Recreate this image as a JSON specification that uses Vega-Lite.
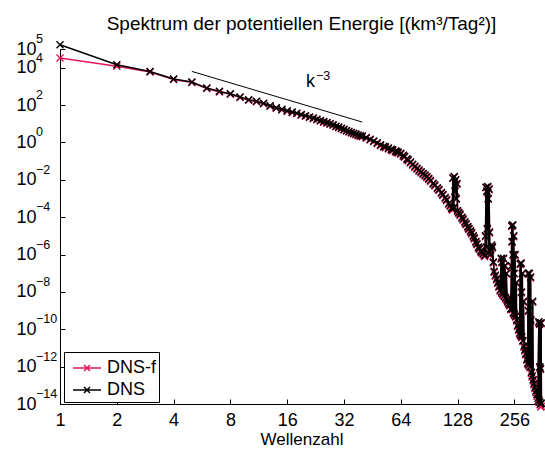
{
  "$schema": "https://vega.github.io/schema/vega-lite/v6.json",
  "width": 483,
  "height": 355,
  "autosize": {"type": "none"},
  "padding": {"left": 60, "top": 49, "right": 2, "bottom": 47},
  "background": "white",
  "title": {"text": "Spektrum der potentiellen Energie [(km³/Tag²)]", "fontSize": 19, "fontWeight": "normal", "color": "black", "font": "Liberation Sans", "baseline": "alphabetic", "offset": -16},
  "config": {
    "view": {"stroke": null},
    "font": "Liberation Sans",
    "axis": {"domainColor": "black", "tickColor": "black", "labelColor": "black", "labelFontSize": 18, "titleFontSize": 17, "titleFontWeight": "normal", "titleColor": "black", "grid": false, "tickSize": -5, "domainWidth": 1, "tickWidth": 1, "labelFont": "Liberation Sans", "titleFont": "Liberation Sans"},
    "legend": {"labelFont": "Liberation Sans"}
  },
  "datasets": {
    "spec": [
      {"k":1,"DNS":1.7e5,"DNSf":3.3e4},{"k":2,"DNS":1.45e4,"DNSf":1.2e4},{"k":3,"DNS":6.3e3,"DNSf":5.8e3},{"k":4,"DNS":2.5e3,"DNSf":2.3e3},{"k":5,"DNS":1.7e3,"DNSf":1.6e3},
      {"k":6,"DNS":810,"DNSf":760},{"k":7,"DNS":540,"DNSf":505},{"k":8,"DNS":400,"DNSf":375},{"k":9,"DNS":270,"DNSf":252},{"k":10,"DNS":195,"DNSf":182},
      {"k":11,"DNS":160,"DNSf":150},{"k":12,"DNS":125,"DNSf":117},{"k":13,"DNS":91,"DNSf":85},{"k":14,"DNS":72,"DNSf":67},{"k":15,"DNS":59,"DNSf":55},
      {"k":16,"DNS":49,"DNSf":45.5},{"k":17,"DNS":42,"DNSf":39},{"k":18,"DNS":37,"DNSf":34.4},{"k":19,"DNS":31,"DNSf":28.8},{"k":20,"DNS":27,"DNSf":25},
      {"k":21,"DNS":23,"DNSf":21.4},{"k":22,"DNS":20,"DNSf":18.6},{"k":23,"DNS":17.5,"DNSf":16.3},{"k":24,"DNS":15,"DNSf":14},{"k":25,"DNS":13,"DNSf":12.1},
      {"k":26,"DNS":11.5,"DNSf":10.7},{"k":27,"DNS":10,"DNSf":9.3},{"k":28,"DNS":8.8,"DNSf":8.2},{"k":29,"DNS":7.4,"DNSf":6.9},{"k":30,"DNS":6.6,"DNSf":6.1},
      {"k":31,"DNS":5.8,"DNSf":5.4},{"k":32,"DNS":5.0,"DNSf":4.6},{"k":33,"DNS":4.4,"DNSf":4.1},{"k":34,"DNS":3.9,"DNSf":3.6},{"k":35,"DNS":3.4,"DNSf":3.15},
      {"k":36,"DNS":3.1,"DNSf":2.85},{"k":37,"DNS":2.8,"DNSf":2.58},{"k":38,"DNS":2.5,"DNSf":2.3},{"k":39,"DNS":2.3,"DNSf":2.12},{"k":40,"DNS":2.2,"DNSf":2.0},
      {"k":42,"DNS":1.82,"DNSf":1.65},{"k":44,"DNS":1.48,"DNSf":1.34},{"k":46,"DNS":1.2,"DNSf":1.08},{"k":48,"DNS":0.955,"DNSf":0.86},{"k":50,"DNS":0.74,"DNSf":0.665},
      {"k":52,"DNS":0.63,"DNSf":0.565},{"k":53,"DNS":0.59,"DNSf":0.52},{"k":55,"DNS":0.5,"DNSf":0.45},{"k":57,"DNS":0.427,"DNSf":0.376},{"k":58,"DNS":0.4,"DNSf":0.36},
      {"k":60,"DNS":0.347,"DNSf":0.305},{"k":61,"DNS":0.324,"DNSf":0.29},{"k":62,"DNS":0.302,"DNSf":0.266},{"k":64,"DNS":0.263,"DNSf":0.236},{"k":66,"DNS":0.204,"DNSf":0.18},
      {"k":67,"DNS":0.178,"DNSf":0.16},{"k":69,"DNS":0.135,"DNSf":0.119},{"k":70,"DNS":0.117,"DNSf":0.105},{"k":72,"DNS":0.089,"DNSf":0.078},{"k":74,"DNS":0.0676,"DNSf":0.06},
      {"k":76,"DNS":0.0525,"DNSf":0.046},{"k":78,"DNS":0.0417,"DNSf":0.037},{"k":80,"DNS":0.0331,"DNSf":0.029},{"k":82,"DNS":0.0269,"DNSf":0.024},{"k":84,"DNS":0.0219,"DNSf":0.0193},
      {"k":86,"DNS":0.0182,"DNSf":0.016},{"k":88,"DNS":0.0148,"DNSf":0.013},{"k":90,"DNS":0.0117,"DNSf":0.0104},{"k":92,"DNS":9.3e-3,"DNSf":8.2e-3},{"k":95,"DNS":6.6e-3,"DNSf":5.8e-3},
      {"k":97,"DNS":5.25e-3,"DNSf":4.6e-3},{"k":100,"DNS":3.8e-3,"DNSf":3.35e-3},{"k":102,"DNS":3.0e-3,"DNSf":2.64e-3},{"k":105,"DNS":2.09e-3,"DNSf":1.84e-3},{"k":107,"DNS":1.62e-3,"DNSf":1.43e-3},
      {"k":110,"DNS":1.12e-3,"DNSf":9.8e-4},{"k":112,"DNS":8.5e-4,"DNSf":7.5e-4},{"k":115,"DNS":5.62e-4,"DNSf":4.9e-4},{"k":117,"DNS":4.27e-4,"DNSf":3.75e-4},{"k":119,"DNS":3.16e-4,"DNSf":2.75e-4},{"k":120,"DNS":2.82e-4,"DNSf":2.45e-4},
      {"k":121,"DNS":1.26e-2,"DNSf":1.2e-2},{"k":122,"DNS":3.16e-4,"DNSf":2.75e-4},{"k":123,"DNS":1.48e-2,"DNSf":1.4e-2},{"k":124,"DNS":2.51e-3,"DNSf":2.3e-3},
      {"k":125,"DNS":1.0e-2,"DNSf":9.5e-3},{"k":126,"DNS":1.0e-3,"DNSf":9e-4},{"k":127,"DNS":6.3e-3,"DNSf":5.8e-3},{"k":128,"DNS":2.24e-4,"DNSf":1.95e-4},
      {"k":130,"DNS":1.78e-4,"DNSf":1.55e-4},{"k":132,"DNS":1.41e-4,"DNSf":1.24e-4},{"k":135,"DNS":1e-4,"DNSf":8.7e-5},{"k":137,"DNS":7.9e-5,"DNSf":6.9e-5},{"k":140,"DNS":5.62e-5,"DNSf":4.9e-5},
      {"k":142,"DNS":4.5e-5,"DNSf":3.95e-5},{"k":145,"DNS":3.16e-5,"DNSf":2.75e-5},{"k":147,"DNS":2.5e-5,"DNSf":2.2e-5},{"k":150,"DNS":1.86e-5,"DNSf":1.62e-5},{"k":152,"DNS":1.45e-5,"DNSf":1.27e-5},
      {"k":155,"DNS":1e-5,"DNSf":8.7e-6},{"k":157,"DNS":7.6e-6,"DNSf":6.7e-6},{"k":160,"DNS":5.0e-6,"DNSf":4.35e-6},{"k":162,"DNS":3.8e-6,"DNSf":3.3e-6},{"k":165,"DNS":2.51e-6,"DNSf":2.2e-6},
      {"k":167,"DNS":2.1e-6,"DNSf":1.85e-6},{"k":170,"DNS":1.58e-6,"DNSf":1.38e-6},{"k":172,"DNS":1.38e-6,"DNSf":1.2e-6},{"k":175,"DNS":1.12e-6,"DNSf":9.7e-7},{"k":178,"DNS":8.9e-7,"DNSf":7.7e-7},
      {"k":180,"DNS":1e-5,"DNSf":9e-6},{"k":181,"DNS":4.0e-3,"DNSf":3.7e-3},{"k":182,"DNS":2.5e-6,"DNSf":2.2e-6},{"k":183,"DNS":2.5e-3,"DNSf":2.3e-3},
      {"k":184,"DNS":2.5e-5,"DNSf":2.2e-5},{"k":185,"DNS":4.4e-3,"DNSf":4.0e-3},{"k":186,"DNS":1e-3,"DNSf":9e-4},{"k":187,"DNS":1.26e-6,"DNSf":1.1e-6},
      {"k":188,"DNS":3.2e-3,"DNSf":2.9e-3},{"k":189,"DNS":1.6e-5,"DNSf":1.4e-5},{"k":190,"DNS":1e-6,"DNSf":8.7e-7},{"k":192,"DNS":2.0e-6,"DNSf":1.75e-6},
      {"k":194,"DNS":3.2e-6,"DNSf":2.8e-6},{"k":196,"DNS":2.5e-6,"DNSf":2.2e-6},{"k":198,"DNS":4.0e-7,"DNSf":3.5e-7},{"k":200,"DNS":1.26e-7,"DNSf":1.1e-7},
      {"k":203,"DNS":7.9e-8,"DNSf":6.9e-8},{"k":206,"DNS":5.0e-8,"DNSf":4.35e-8},{"k":209,"DNS":3.2e-8,"DNSf":2.8e-8},{"k":212,"DNS":2.0e-8,"DNSf":1.75e-8},
      {"k":215,"DNS":1.26e-8,"DNSf":1.1e-8},{"k":218,"DNS":6.3e-7,"DNSf":5.8e-7},{"k":219,"DNS":1e-8,"DNSf":8.7e-9},{"k":220,"DNS":4.0e-7,"DNSf":3.6e-7},
      {"k":222,"DNS":7.9e-9,"DNSf":6.9e-9},{"k":224,"DNS":6.3e-7,"DNSf":5.8e-7},{"k":226,"DNS":6.3e-9,"DNSf":5.5e-9},{"k":228,"DNS":2.5e-7,"DNSf":2.2e-7},
      {"k":230,"DNS":5.0e-9,"DNSf":4.35e-9},{"k":232,"DNS":1e-7,"DNSf":9e-8},{"k":234,"DNS":4.0e-9,"DNSf":3.5e-9},{"k":236,"DNS":3.2e-9,"DNSf":2.8e-9},
      {"k":239,"DNS":2.5e-9,"DNSf":2.2e-9},{"k":242,"DNS":2.0e-9,"DNSf":1.75e-9},{"k":245,"DNS":1.26e-9,"DNSf":1.1e-9},{"k":247,"DNS":2.5e-7,"DNSf":2.2e-7},
      {"k":248,"DNS":3.5e-5,"DNSf":3.2e-5},{"k":249,"DNS":5.0e-6,"DNSf":4.5e-6},{"k":250,"DNS":1.26e-9,"DNSf":1.1e-9},{"k":251,"DNS":3.9e-5,"DNSf":3.6e-5},
      {"k":252,"DNS":1e-6,"DNSf":9e-7},{"k":253,"DNS":7.9e-10,"DNSf":6.9e-10},{"k":254,"DNS":1e-5,"DNSf":9e-6},{"k":255,"DNS":1e-7,"DNSf":9e-8},
      {"k":256,"DNS":6.3e-10,"DNSf":5.5e-10},{"k":258,"DNS":1e-6,"DNSf":9e-7},{"k":260,"DNS":5.0e-10,"DNSf":4.35e-10},{"k":262,"DNS":3.2e-8,"DNSf":2.8e-8},
      {"k":263,"DNS":3.2e-10,"DNSf":2.8e-10},{"k":266,"DNS":1.6e-10,"DNSf":1.4e-10},{"k":270,"DNS":1e-10,"DNSf":8.7e-11},{"k":273,"DNS":6.3e-11,"DNSf":5.5e-11},
      {"k":275,"DNS":3.2e-7,"DNSf":2.9e-7},{"k":276,"DNS":5.0e-11,"DNSf":4.35e-11},{"k":278,"DNS":3.5e-7,"DNSf":3.2e-7},{"k":279,"DNS":1e-8,"DNSf":9e-9},
      {"k":280,"DNS":4.0e-11,"DNSf":3.5e-11},{"k":282,"DNS":1e-7,"DNSf":9e-8},{"k":284,"DNS":2.5e-11,"DNSf":2.2e-11},{"k":286,"DNS":3.2e-9,"DNSf":2.8e-9},
      {"k":288,"DNS":1.26e-11,"DNSf":1.1e-11},{"k":291,"DNS":7.9e-12,"DNSf":6.9e-12},{"k":294,"DNS":5.0e-12,"DNSf":4.35e-12},{"k":298,"DNS":2.5e-12,"DNSf":2.2e-12},
      {"k":301,"DNS":1.58e-12,"DNSf":1.38e-12},{"k":303,"DNS":1e-7,"DNSf":9e-8},{"k":304,"DNS":1e-9,"DNSf":9e-10},{"k":305,"DNS":1.26e-12,"DNSf":1.1e-12},
      {"k":307,"DNS":1e-7,"DNSf":9e-8},{"k":308,"DNS":1e-11,"DNSf":9e-12},{"k":310,"DNS":1e-12,"DNSf":8.7e-13},{"k":312,"DNS":6.3e-8,"DNSf":5.6e-8},
      {"k":313,"DNS":3.2e-10,"DNSf":2.8e-10},{"k":315,"DNS":5.0e-13,"DNSf":4.35e-13},{"k":318,"DNS":3.2e-13,"DNSf":2.8e-13},{"k":320,"DNS":3.2e-9,"DNSf":2.8e-9},
      {"k":322,"DNS":2.0e-13,"DNSf":1.7e-13},{"k":325,"DNS":1.26e-13,"DNSf":1.05e-13},{"k":329,"DNS":7.9e-14,"DNSf":6.5e-14},{"k":333,"DNS":5.0e-14,"DNSf":4.0e-14},
      {"k":337,"DNS":3.2e-14,"DNSf":2.5e-14},{"k":341,"DNS":2.0e-14,"DNSf":1.5e-14},{"k":345,"DNS":2.5e-10,"DNSf":2.2e-10},{"k":346,"DNS":1.6e-14,"DNSf":1.2e-14},
      {"k":348,"DNS":2.0e-10,"DNSf":1.8e-10},{"k":349,"DNS":1e-12,"DNSf":9e-13},{"k":350,"DNS":1.26e-14,"DNSf":9e-15},{"k":352,"DNS":7.9e-13,"DNSf":7e-13},
      {"k":353,"DNS":1e-14,"DNSf":7e-15},{"k":355,"DNS":2.2e-10,"DNSf":2e-10},{"k":356,"DNS":1.1e-14,"DNSf":7.5e-15}
    ],
    "exps": [
      {"E": 1e5, "ex": "5"}, {"E": 1e4, "ex": "4"}, {"E": 1e2, "ex": "2"}, {"E": 1, "ex": "0"},
      {"E": 1e-2, "ex": "−2"}, {"E": 1e-4, "ex": "−4"}, {"E": 1e-6, "ex": "−6"}, {"E": 1e-8, "ex": "−8"},
      {"E": 1e-10, "ex": "−10"}, {"E": 1e-12, "ex": "−12"}, {"E": 1e-14, "ex": "−14"}
    ]
  },
  "layer": [
    {
      "data": {"name": "spec"},
      "mark": {"type": "line", "strokeWidth": 1.5, "clip": false, "point": {"shape": "M-1,-1L1,1M-1,1L1,-1", "filled": false, "size": 49, "strokeWidth": 1.4}},
      "encoding": {
        "x": {"field": "k", "type": "quantitative", "scale": {"type": "log", "base": 2, "domain": [1, 363], "nice": false},
              "axis": {"values": [1, 2, 4, 8, 16, 32, 64, 128, 256], "title": "Wellenzahl", "labelPadding": 12, "titlePadding": 2, "labelFlush": false, "labelOverlap": false, "format": "d"}},
        "y": {"field": "DNSf", "type": "quantitative", "scale": {"type": "log", "domain": [1e-14, 1e5], "nice": false},
              "axis": {"title": null, "values": [1e5, 1e4, 1e2, 1, 1e-2, 1e-4, 1e-6, 1e-8, 1e-10, 1e-12, 1e-14], "labelPadding": 29, "labelOverlap": false, "labelFlush": false, "labelBaseline": "middle",
                       "labelExpr": "'10'"}},
        "color": {"datum": "DNS-f", "type": "nominal",
                  "scale": {"domain": ["DNS-f", "DNS"], "range": ["#e0185c", "#000000"]},
                  "legend": {"title": null, "orient": "none", "legendX": 4, "legendY": 303, "strokeColor": "black", "fillColor": "white", "padding": 3,
                             "labelFontSize": 18, "labelColor": "black", "labelOffset": 14, "rowPadding": 0,
                             "symbolType": "M-0.583,0H1.75M0.333,-0.25L0.833,0.25M0.333,0.25L0.833,-0.25", "symbolSize": 576, "symbolStrokeWidth": 1.5, "symbolFillColor": "transparent"}}
      }
    },
    {
      "data": {"name": "spec"},
      "mark": {"type": "line", "strokeWidth": 1.5, "clip": false, "point": {"shape": "M-1,-1L1,1M-1,1L1,-1", "filled": false, "size": 49, "strokeWidth": 1.4}},
      "encoding": {
        "x": {"field": "k", "type": "quantitative"},
        "y": {"field": "DNS", "type": "quantitative"},
        "color": {"datum": "DNS", "type": "nominal"}
      }
    },
    {
      "data": {"values": [{"k": 5, "E": 6300}, {"k": 40, "E": 12.3}]},
      "mark": {"type": "line", "color": "black", "strokeWidth": 1},
      "encoding": {
        "x": {"field": "k", "type": "quantitative"},
        "y": {"field": "E", "type": "quantitative"}
      }
    },
    {
      "data": {"values": [{"k": 20.1, "E": 955, "t": "k"}]},
      "mark": {"type": "text", "fontSize": 18, "align": "left", "baseline": "alphabetic", "color": "black", "font": "Liberation Sans"},
      "encoding": {
        "x": {"field": "k", "type": "quantitative"},
        "y": {"field": "E", "type": "quantitative"},
        "text": {"field": "t"}
      }
    },
    {
      "data": {"values": [{"k": 20.1, "E": 955, "t": "−3"}]},
      "mark": {"type": "text", "fontSize": 12.5, "align": "left", "baseline": "alphabetic", "color": "black", "font": "Liberation Sans", "dx": 10, "dy": -7},
      "encoding": {
        "x": {"field": "k", "type": "quantitative"},
        "y": {"field": "E", "type": "quantitative"},
        "text": {"field": "t"}
      }
    },
    {
      "data": {"name": "exps"},
      "mark": {"type": "text", "fontSize": 12.5, "align": "left", "baseline": "middle", "color": "black", "font": "Liberation Sans", "dx": -24, "dy": -10},
      "encoding": {
        "x": {"datum": 1, "type": "quantitative"},
        "y": {"field": "E", "type": "quantitative"},
        "text": {"field": "ex"}
      }
    }
  ]
}
